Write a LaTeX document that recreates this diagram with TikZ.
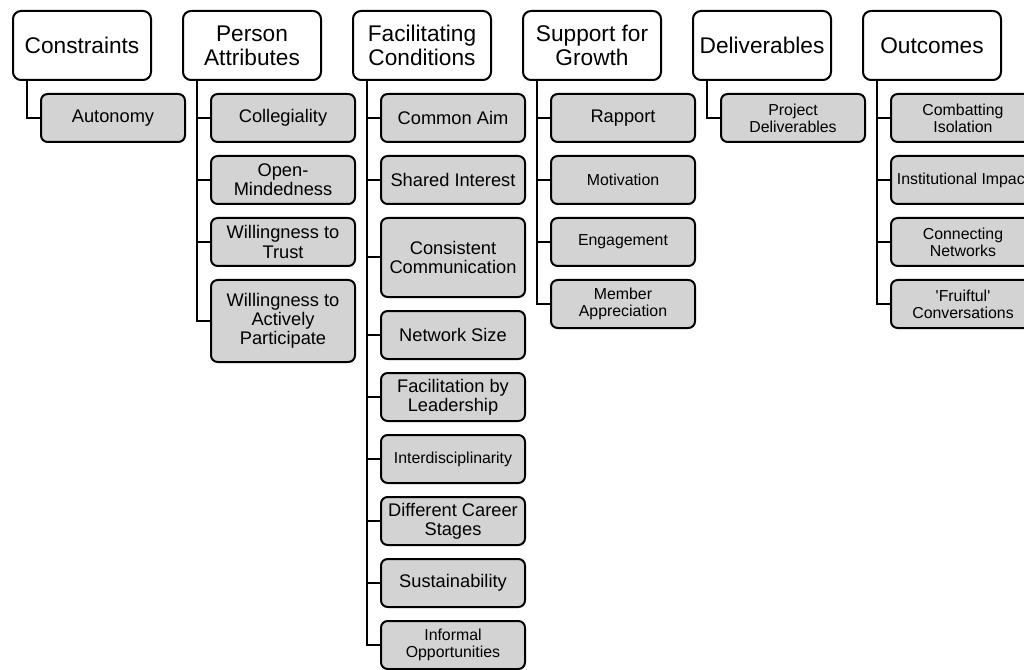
\documentclass[tikz,border=0pt]{standalone}
\usepackage{fontspec}
\setmainfont{Liberation Sans}
\usetikzlibrary{positioning}
\definecolor{boxgray}{RGB}{211,211,211}
\newcommand{\headsize}{\fontsize{17pt}{17.8pt}\selectfont}
\newcommand{\itemsize}{\fontsize{13.7pt}{14.4pt}\selectfont}
\newcommand{\smallsize}{\fontsize{11.9pt}{12.6pt}\selectfont}

\begin{document}
\begin{tikzpicture}
\tikzstyle{themebox} = [rectangle, rounded corners=6pt, draw=black, line width=1.5pt, fill=white, minimum width=103.5pt, minimum height=51.75pt, align=center, inner sep=2pt, font=\headsize]
\tikzstyle{codebox} = [rectangle, rounded corners=5pt, draw=black, line width=1.5pt, fill=boxgray, minimum width=108pt, minimum height=36pt, align=center, inner sep=2pt, font=\itemsize]
\tikzstyle{smallbox} = [codebox, font=\smallsize]
\tikzstyle{joinline} = [line width=1.5pt]

\useasboundingbox (0,0) rectangle (768pt,-502.5pt);
\clip (0,0) rectangle (768pt,-502.5pt);

% themes
\node (Constraints) [themebox, anchor=north west] at (9pt,-7.5pt) {Constraints};
\node (PersonAttributes) [themebox, right=22.5pt of Constraints] {Person\\Attributes};
\node (FacilitatingConditions) [themebox, right=22.5pt of PersonAttributes] {Facilitating\\Conditions};
\node (SupportForGrowth) [themebox, right=22.5pt of FacilitatingConditions] {Support for\\Growth};
\node (Deliverables) [themebox, right=22.5pt of SupportForGrowth] {Deliverables};
\node (Outcomes) [themebox, right=22.5pt of Deliverables] {Outcomes};

% codes
\node (Autonomy) [codebox, below right=9pt and 21pt of Constraints.south west] {Autonomy};

\node (Collegiality) [codebox, below right=9pt and 21pt of PersonAttributes.south west] {Collegiality};
\node (OpenMindedness) [codebox, below=9pt of Collegiality] {Open-\\Mindedness};
\node (WillingnessToTrust) [codebox, below=9pt of OpenMindedness] {Willingness to\\Trust};
\node (WillingnessToParticipate) [codebox, minimum height=61.5pt, below=9pt of WillingnessToTrust] {Willingness to\\Actively\\Participate};

\node (CommonAim) [codebox, below right=9pt and 21pt of FacilitatingConditions.south west] {Common Aim};
\node (SharedInterest) [codebox, below=9pt of CommonAim] {Shared Interest};
\node (ConsistentCommunication) [codebox, minimum height=59.25pt, below=9pt of SharedInterest] {Consistent\\Communication};
\node (NetworkSize) [codebox, below=9pt of ConsistentCommunication] {Network Size};
\node (FacilitationByLeadership) [codebox, below=9pt of NetworkSize] {Facilitation by\\Leadership};
\node (Interdisciplinarity) [smallbox, below=9pt of FacilitationByLeadership] {Interdisciplinarity};
\node (DifferentCareerStages) [codebox, below=9pt of Interdisciplinarity] {Different Career\\Stages};
\node (Sustainability) [codebox, below=9pt of DifferentCareerStages] {Sustainability};
\node (InformalOpportunities) [smallbox, below=9pt of Sustainability] {Informal\\Opportunities};

\node (Rapport) [codebox, below right=9pt and 21pt of SupportForGrowth.south west] {Rapport};
\node (Motivation) [smallbox, below=9pt of Rapport] {Motivation};
\node (Engagement) [smallbox, below=9pt of Motivation] {Engagement};
\node (MemberAppreciation) [smallbox, below=9pt of Engagement] {Member\\Appreciation};

\node (ProjectDeliverables) [smallbox, below right=9pt and 21pt of Deliverables.south west] {Project\\Deliverables};

\node (CombattingIsolation) [smallbox, below right=9pt and 21pt of Outcomes.south west] {Combatting\\Isolation};
\node (InstitutionalImpact) [smallbox, below=9pt of CombattingIsolation] {Institutional Impact};
\node (ConnectingNetworks) [smallbox, below=9pt of InstitutionalImpact] {Connecting\\Networks};
\node (FruitfulConversations) [smallbox, below=9pt of ConnectingNetworks] {\textquotesingle Fruiftul\textquotesingle\\Conversations};

% tree lines
\draw [joinline] ([xshift=11.25pt]Constraints.south west) |- (Autonomy.west);

\draw [joinline] ([xshift=11.25pt]PersonAttributes.south west) |- (Collegiality.west);
\draw [joinline] ([xshift=11.25pt]PersonAttributes.south west) |- (OpenMindedness.west);
\draw [joinline] ([xshift=11.25pt]PersonAttributes.south west) |- (WillingnessToTrust.west);
\draw [joinline] ([xshift=11.25pt]PersonAttributes.south west) |- (WillingnessToParticipate.west);

\draw [joinline] ([xshift=11.25pt]FacilitatingConditions.south west) |- (CommonAim.west);
\draw [joinline] ([xshift=11.25pt]FacilitatingConditions.south west) |- (SharedInterest.west);
\draw [joinline] ([xshift=11.25pt]FacilitatingConditions.south west) |- (ConsistentCommunication.west);
\draw [joinline] ([xshift=11.25pt]FacilitatingConditions.south west) |- (NetworkSize.west);
\draw [joinline] ([xshift=11.25pt]FacilitatingConditions.south west) |- (FacilitationByLeadership.west);
\draw [joinline] ([xshift=11.25pt]FacilitatingConditions.south west) |- (Interdisciplinarity.west);
\draw [joinline] ([xshift=11.25pt]FacilitatingConditions.south west) |- (DifferentCareerStages.west);
\draw [joinline] ([xshift=11.25pt]FacilitatingConditions.south west) |- (Sustainability.west);
\draw [joinline] ([xshift=11.25pt]FacilitatingConditions.south west) |- (InformalOpportunities.west);

\draw [joinline] ([xshift=11.25pt]SupportForGrowth.south west) |- (Rapport.west);
\draw [joinline] ([xshift=11.25pt]SupportForGrowth.south west) |- (Motivation.west);
\draw [joinline] ([xshift=11.25pt]SupportForGrowth.south west) |- (Engagement.west);
\draw [joinline] ([xshift=11.25pt]SupportForGrowth.south west) |- (MemberAppreciation.west);

\draw [joinline] ([xshift=11.25pt]Deliverables.south west) |- (ProjectDeliverables.west);

\draw [joinline] ([xshift=11.25pt]Outcomes.south west) |- (CombattingIsolation.west);
\draw [joinline] ([xshift=11.25pt]Outcomes.south west) |- (InstitutionalImpact.west);
\draw [joinline] ([xshift=11.25pt]Outcomes.south west) |- (ConnectingNetworks.west);
\draw [joinline] ([xshift=11.25pt]Outcomes.south west) |- (FruitfulConversations.west);

\end{tikzpicture}
\end{document}
